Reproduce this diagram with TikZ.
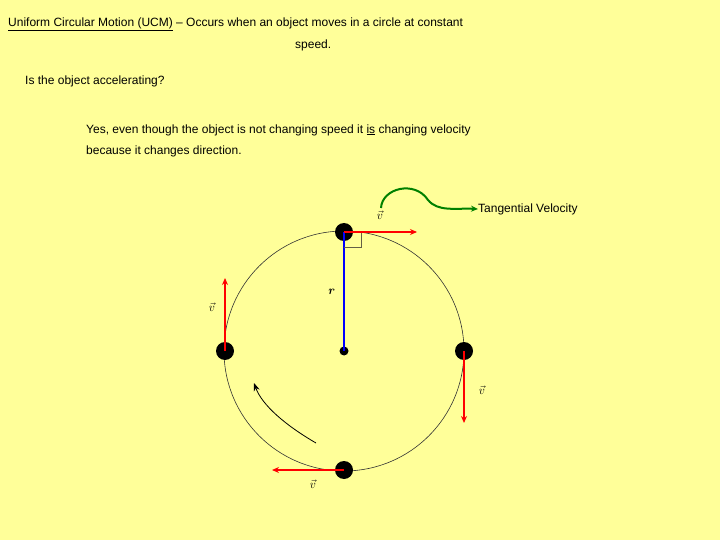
\documentclass[tikz,border=0pt]{standalone}
\usepackage{fontspec}
\usetikzlibrary{arrows.meta}
\setmainfont{Liberation Sans}
\begin{document}
\begin{tikzpicture}[x=1pt,y=-1pt,
 vel/.style={draw=red,line width=2.2pt,-{Stealth[length=7pt,width=6pt]}},
 dot/.style={circle,fill=black,minimum size=18pt,inner sep=0pt},
 vlab/.style={font=\fontspec{Latin Modern Roman}\itshape\large},
 txt/.style={font=\fontsize{12}{14}\selectfont,inner sep=0pt}]
\fill[fill={rgb,255:red,255;green,255;blue,153}] (0,0) rectangle (720,540);
\useasboundingbox (0,0) rectangle (720,540);
\node[txt,anchor=west] (t1) at (8,24) {\underline{Uniform Circular Motion (UCM)} -- Occurs when an object moves in a circle at constant};
\node[txt,anchor=west] (t2) at (295,45) {speed.};
\node[txt,anchor=west] (t3) at (25,81) {Is the object accelerating?};
\node[txt,anchor=west] (t4) at (86,130) {Yes, even though the object is not changing speed it \underline{is} changing velocity};
\node[txt,anchor=west] (t5) at (86,151) {because it changes direction.};
\node[txt,anchor=west] (tv) at (478,209) {Tangential Velocity};
\coordinate (c) at (344,351);
\draw[black!80,line width=0.6pt] (c) circle (120);
\node[dot] (top) at (344,232) {};
\node[dot] (lft) at (225,351) {};
\node[dot] (rgt) at (464,351) {};
\node[dot] (bot) at (344,470) {};
\node[circle,fill=black,minimum size=9pt,inner sep=0pt] (cen) at (c) {};
\draw[blue,line width=2.2pt] (cen.center) -- (top.center);
\draw[black!70!yellow,line width=1pt] (344,247) -- (361,247) -- (361,233);
\coordinate (v1) at (417,232);
\coordinate (v2) at (225,278);
\coordinate (v3) at (464,423);
\coordinate (v4) at (272,470);
\draw[vel] (top.center) -- (v1);
\draw[vel] (lft.center) -- (v2);
\draw[vel] (rgt.center) -- (v3);
\draw[vel] (bot.center) -- (v4);
\node[vlab] (l1) at (380,215) {$\vec v$};
\node[vlab] (l2) at (212,307) {$\vec v$};
\node[vlab] (l3) at (482,390) {$\vec v$};
\node[vlab] (l4) at (313,484) {$\vec v$};
\node[font=\fontspec{Latin Modern Roman}\bfseries\itshape\large] (r) at (331,292) {r};
\coordinate (a1) at (316,443);
\coordinate (a2) at (254,383);
\draw[black,line width=0.8pt,-{Stealth[length=8pt,width=6pt]}] (a1) .. controls (285,425) and (262,405) .. (a2);
\coordinate (g0) at (381,208);
\draw[green!50!black,line width=2pt,-{Stealth[length=7pt,width=6pt]}] (g0) .. controls (382,188) and (415,180) .. (428,200) .. controls (438,212) and (455,208) .. (tv.west);
\end{tikzpicture}
\end{document}
